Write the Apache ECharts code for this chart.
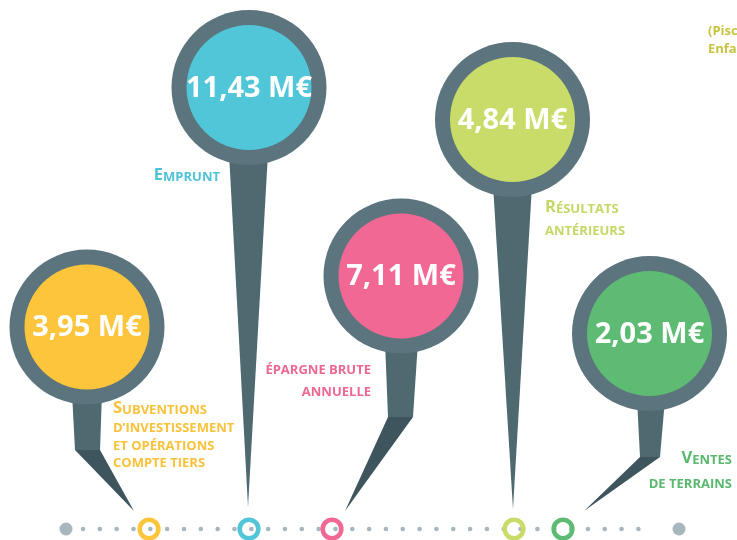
<!DOCTYPE html>
<html><head><meta charset="utf-8">
<script src="https://cdn.jsdelivr.net/npm/echarts@6/dist/echarts.min.js"></script>
<style>html,body{margin:0;padding:0;background:#fff}#c{width:737px;height:540px}</style>
</head><body><div id="c"></div>
<script>
// ---- data ----
const categories = ['Subventions d’investissement et opérations compte tiers', 'Emprunt', 'Épargne brute annuelle', 'Résultats antérieurs', 'Ventes de terrains'];
const labelLines = [['Subventions', 'd’investissement', 'et opérations', 'compte tiers'], ['Emprunt'], ['Épargne brute', 'annuelle'], ['Résultats', 'antérieurs'], ['Ventes', 'de terrains']];
const values = [3.95, 11.43, 7.11, 4.84, 2.03];
const unit = 'M€';
const cutLines = ['(Piscine', 'Enfance'];

// ---- styles ----
const F = '"Open Sans", "DejaVu Sans", sans-serif';
const colors = ['#FDC53B', '#50C6D8', '#F06893', '#C9DC69', '#5EBB73'];
const labelColors = ['#F9C23A', '#4EC3D5', '#EE6891', '#C5D866', '#5AB86F'];
const ringGrey = '#5B747D', stemColor = '#4F6971', stemDark = '#3E555E', dotGrey = '#A8B7BE';

// ---- layout (axis units = px) ----
const R = 77.5, r = 62.5;
const layout = [
  {cx: 87, cy: 327, stem: [72, 102], bend: [450, 75, 100], tip: [134, 511], ring: 149, lab: {x: 113, b: 414, align: 'left', lh: 17.6, big: true}},
  {cx: 249, cy: 87.5, stem: [229, 268], tip: [248, 507], ring: 249, lab: {x: 220, b: 181, align: 'right', lh: 18, big: true}},
  {cx: 401, cy: 276, stem: [385, 418], bend: [417, 388, 413], tip: [345, 511], ring: 332, lab: {x: 371, b: 374, align: 'right', lh: 21.8, big: false}},
  {cx: 512.5, cy: 119.5, stem: [493, 532], tip: [513, 509], ring: 514, lab: {x: 545, b: 212.7, align: 'left', lh: 22.3, big: true}},
  {cx: 649.5, cy: 333.5, stem: [637, 665], bend: [457, 640, 660], tip: [584, 511], ring: 563, lab: {x: 732, b: 463.3, align: 'right', lh: 24.4, big: true}}
];
const timeline = {y: 529, x0: 66, x1: 679, d0: 83, step: 16.82, n: 34};

function fmt(v) { return v.toFixed(2).replace('.', ',') + ' ' + unit; }
function capsText(lines, big) {
  return lines.map((ln, k) => {
    const up = ln.toUpperCase();
    if (k === 0 && big) return '{b|' + up[0] + '}{s|' + up.slice(1) + '}';
    return '{s|' + up + '}';
  }).join('\n');
}

const chart = echarts.init(document.getElementById('c'), null, {renderer: 'canvas'});

function poly(pts, fill) { return {type: 'polygon', shape: {points: pts}, style: {fill: fill}}; }

const option = {
  animation: false,
  backgroundColor: '#fff',
  grid: {left: 0, right: 0, top: 0, bottom: 0},
  xAxis: {type: 'value', min: 0, max: 737, show: false},
  yAxis: {type: 'value', min: 0, max: 540, inverse: true, show: false},
  series: [
    {
      type: 'custom', clip: false, silent: true, z: 1,
      data: [[0, 0]],
      renderItem: function (params, api) {
        const P = (x, y) => api.coord([x, y]);
        const a = P(timeline.d0, timeline.y), b = P(timeline.d0 + timeline.n * timeline.step + 0.3, timeline.y);
        const e0 = P(timeline.x0, timeline.y), e1 = P(timeline.x1, timeline.y);
        const extra = cutLines.map((t, k) => ({type: 'text', style: {text: t, x: P(708, 0)[0], y: P(0, 38 + k * 18)[1], align: 'left', verticalAlign: 'bottom', fill: '#C9C43F', font: 'bold 13px ' + F}}));
        return {type: 'group', children: [
          {type: 'line', shape: {x1: a[0], y1: a[1], x2: b[0], y2: b[1]}, style: {stroke: dotGrey, lineWidth: 4.6, lineCap: 'round', lineDash: [0.01, timeline.step]}},
          {type: 'circle', shape: {cx: e0[0], cy: e0[1], r: 6.5}, style: {fill: dotGrey}},
          {type: 'circle', shape: {cx: e1[0], cy: e1[1], r: 6.5}, style: {fill: dotGrey}}
        ].concat(extra)};
      }
    },
    {
      type: 'custom', clip: false, silent: true, z: 2,
      data: values.map((v, i) => [i, v]),
      renderItem: function (params, api) {
        const i = api.value(0), v = api.value(1);
        const L = layout[i];
        const P = (x, y) => api.coord([x, y]);
        const ch = [];
        const topY = L.cy + R - 12;
        if (L.bend) {
          const [by, bl, br] = L.bend;
          ch.push(poly([P(L.stem[0], topY), P(L.stem[1], topY), P(br, by), P(bl, by)], stemColor));
          ch.push(poly([P(bl, by), P(br, by), P(L.tip[0], L.tip[1])], stemDark));
        } else {
          ch.push(poly([P(L.stem[0], topY), P(L.stem[1], topY), P(L.tip[0], L.tip[1])], stemColor));
        }
        const c = P(L.cx, L.cy);
        ch.push({type: 'circle', shape: {cx: c[0], cy: c[1], r: R}, style: {fill: ringGrey}});
        ch.push({type: 'circle', shape: {cx: c[0], cy: c[1], r: r}, style: {fill: colors[i]}});
        ch.push({type: 'text', style: {text: fmt(v), x: c[0], y: c[1] + 1, align: 'center', verticalAlign: 'middle', fill: '#fff', font: 'bold 29px ' + F}});
        // timeline ring
        const rp = P(L.ring, timeline.y);
        ch.push({type: 'circle', shape: {cx: rp[0], cy: rp[1], r: 9.3}, style: {fill: 'none', stroke: colors[i], lineWidth: 4.6}});
        // category label
        const lab = L.lab;
        const lp = P(lab.x, lab.b + 3.2 - lab.lh);
        ch.push({type: 'text', style: {
          text: capsText(labelLines[i], lab.big), x: lp[0], y: lp[1], align: lab.align, verticalAlign: 'top',
          rich: {
            b: {fontSize: 16.5, fontWeight: 'bold', fontFamily: F, fill: labelColors[i], lineHeight: lab.lh, verticalAlign: 'bottom'},
            s: {fontSize: 13, fontWeight: 'bold', fontFamily: F, fill: labelColors[i], lineHeight: lab.lh, verticalAlign: 'bottom'}
          }
        }});
        return {type: 'group', children: ch};
      }
    }
  ]
};
chart.setOption(option);
</script>
</body></html>
